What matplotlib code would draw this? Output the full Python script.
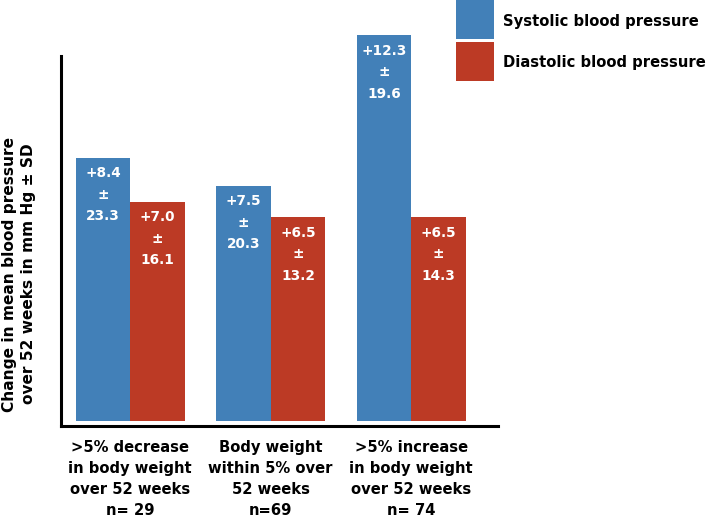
import matplotlib
matplotlib.use("Agg")
import matplotlib.pyplot as plt
from matplotlib.patches import Patch, Rectangle
from matplotlib.legend_handler import HandlerPatch
import numpy as np

categories = [">5% decrease\nin body weight\nover 52 weeks\nn= 29",
              "Body weight\nwithin 5% over\n52 weeks\nn=69",
              ">5% increase\nin body weight\nover 52 weeks\nn= 74"]
systolic = [8.4, 7.5, 12.3]
systolic_sd = [23.3, 20.3, 19.6]
diastolic = [7.0, 6.5, 6.5]
diastolic_sd = [16.1, 13.2, 14.3]
series_names = ["Systolic blood pressure", "Diastolic blood pressure"]
ylabel = "Change in mean blood pressure\nover 52 weeks in mm Hg \u00b1 SD"

BLUE = "#4280B8"
RED = "#BC3A25"

W, H = 709, 518
fig = plt.figure(figsize=(W / 100, H / 100), dpi=100)
plt.rcParams['font.family'] = ['DejaVu Sans']

# axes in pixel geometry
left_px, right_px, top_px, bot_px = 60.5, 498, 56, 426
ax = fig.add_axes([left_px / W, 1 - bot_px / H, (right_px - left_px) / W, (bot_px - top_px) / H])

px_per_unit = 31.35
ymin = -(bot_px - 421) / px_per_unit
ymax = ymin + (bot_px - top_px) / px_per_unit
ax.set_ylim(ymin, ymax)
grp = 140.4
ax.set_xlim((left_px - 130.3) / grp, (right_px - 130.3) / grp)

x = np.arange(len(categories))
bw = 54.5 / grp
b1 = ax.bar(x - bw / 2, systolic, bw, color=BLUE, clip_on=False, zorder=2)
b2 = ax.bar(x + bw / 2, diastolic, bw, color=RED, clip_on=False, zorder=2)

for bars, vals, sds in [(b1, systolic, systolic_sd), (b2, diastolic, diastolic_sd)]:
    for r, v, s in zip(bars, vals, sds):
        ax.annotate(f"+{v:.1f}\n\u00b1\n{s:.1f}",
                    xy=(r.get_x() + r.get_width() / 2, r.get_height()),
                    xytext=(0, -37), textcoords='offset pixels',
                    ha='center', va='center', color='white', fontweight='bold',
                    fontsize=9.8, linespacing=1.68, annotation_clip=False, zorder=3)

for sp in ['top', 'right']:
    ax.spines[sp].set_visible(False)
for sp in ['left', 'bottom']:
    ax.spines[sp].set_linewidth(2.2)
    ax.spines[sp].set_color('black')
ax.set_yticks([])
ax.set_xticks(x)
ax.set_xticklabels(categories, fontweight='bold', fontsize=10.6, linespacing=1.5)
ax.tick_params(axis='x', length=0, pad=10)

fig.text(19 / W, 1 - 274 / H, ylabel, rotation=90, ha='center', va='center',
         multialignment='center', fontweight='bold', fontsize=11.1, linespacing=1.3)

shift = 2 * 72 / 100  # 2 px in points


def raised_patch(legend, orig_handle, xdescent, ydescent, width, height, fontsize):
    return Rectangle((-xdescent, -ydescent + shift), width, height)


handles = [Patch(facecolor=BLUE, edgecolor='none'), Patch(facecolor=RED, edgecolor='none')]
fs = 10.6
fpx = fs * 100 / 72
hh = (39 / fpx - 0.245) / 0.65
fig.legend(handles, series_names, loc='upper left',
           bbox_to_anchor=(455.7 / W, 1.0 - 2 / H), frameon=False,
           prop={'weight': 'bold', 'size': fs},
           handlelength=38.3 / fpx, handleheight=hh,
           handletextpad=9 / fpx, labelspacing=2.7 / fpx,
           borderpad=0, borderaxespad=0,
           handler_map={Patch: HandlerPatch(patch_func=raised_patch)})

fig.savefig("out.png", dpi=100)
